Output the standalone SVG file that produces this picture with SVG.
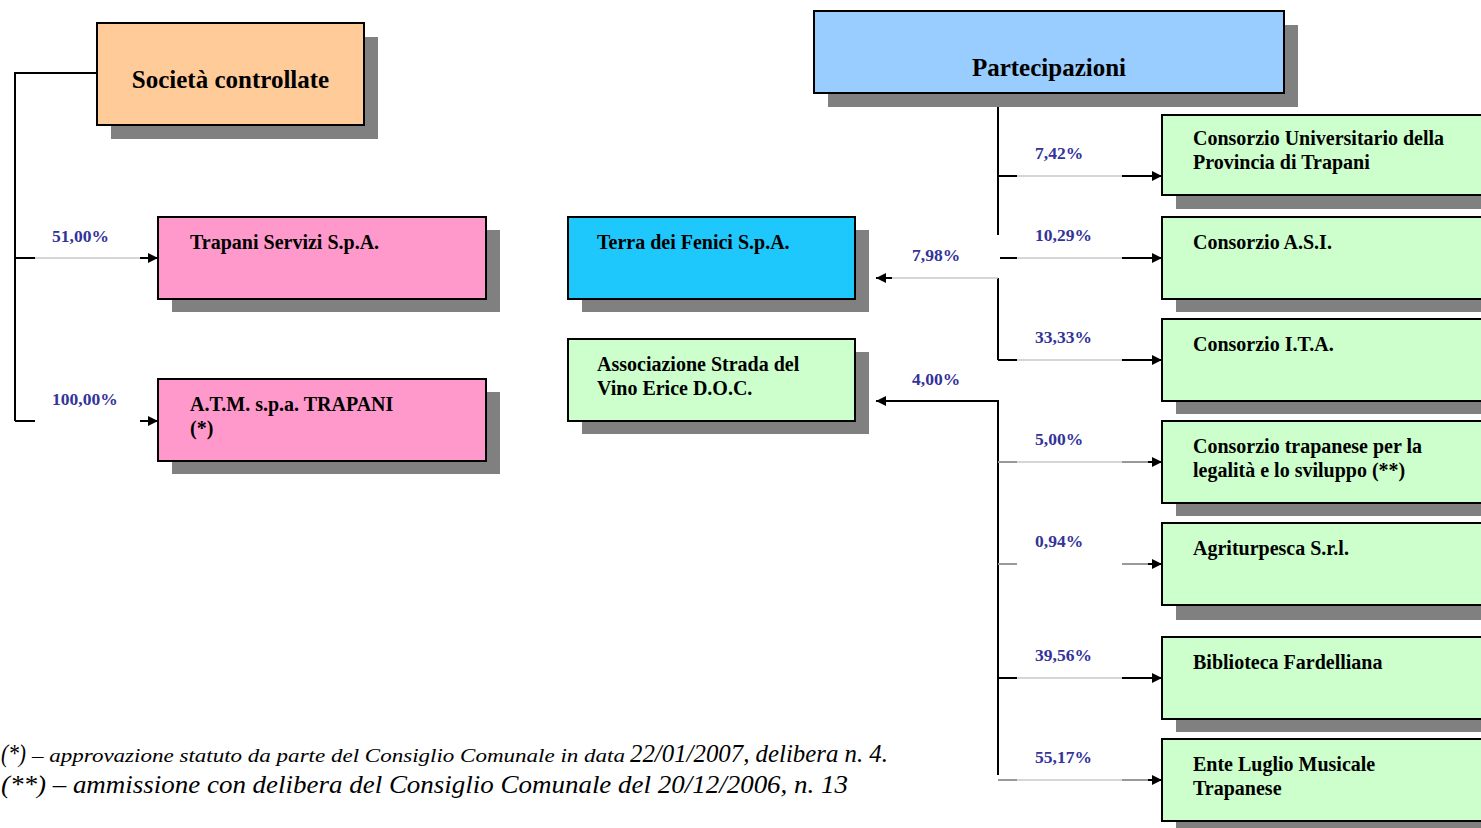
<svg xmlns="http://www.w3.org/2000/svg" width="1481" height="828" viewBox="0 0 1481 828">
<style>
.box{stroke:#000;stroke-width:2}
.sh{fill:#808080}
.t{font-family:"Liberation Serif",serif;font-weight:bold;font-size:20px;fill:#000}
.h{font-family:"Liberation Serif",serif;font-weight:bold;font-size:25px;fill:#000}
.p{font-family:"Liberation Serif",serif;font-weight:bold;font-size:17.5px;fill:#333399}
.fn{font-family:"Liberation Serif",serif;font-style:italic;fill:#000}
.ln{stroke:#000;stroke-width:2;fill:none}
.gl{stroke:#c8c8c8;stroke-width:1.5;fill:none}
.gs{stroke:#999;stroke-width:2;fill:none}
</style>
<defs>
<marker id="ah" viewBox="0 0 10 10" refX="10" refY="5" markerWidth="10" markerHeight="10" markerUnits="userSpaceOnUse" orient="auto">
<path d="M0,0 L10,5 L0,10 Z" fill="#000"/>
</marker>
</defs>
<rect width="1481" height="828" fill="#fff"/>

<g id="connectors">
<polyline class="ln" points="97,73 15,73 15,421"/>
<line class="ln" x1="15" y1="258" x2="35" y2="258"/>
<line class="gl" x1="35" y1="258" x2="140" y2="258"/>
<line class="ln" x1="140" y1="258" x2="158" y2="258" marker-end="url(#ah)"/>
<line class="ln" x1="15" y1="421" x2="35" y2="421"/>
<line class="ln" x1="140" y1="421" x2="158" y2="421" marker-end="url(#ah)"/>
<line class="ln" x1="998" y1="104" x2="998" y2="235"/>
<line class="ln" x1="998" y1="278" x2="998" y2="360"/>
<line class="ln" x1="998" y1="400" x2="998" y2="775"/>
<line class="ln" x1="998" y1="176" x2="1017" y2="176"/>
<line class="gl" x1="1017" y1="176" x2="1122" y2="176"/>
<line class="ln" x1="1122" y1="176" x2="1162" y2="176" marker-end="url(#ah)"/>
<line class="ln" x1="1000" y1="258" x2="1017" y2="258"/>
<line class="gl" x1="1017" y1="258" x2="1122" y2="258"/>
<line class="ln" x1="1122" y1="258" x2="1162" y2="258" marker-end="url(#ah)"/>
<line class="ln" x1="998" y1="360" x2="1017" y2="360"/>
<line class="gl" x1="1017" y1="360" x2="1122" y2="360"/>
<line class="ln" x1="1122" y1="360" x2="1162" y2="360" marker-end="url(#ah)"/>
<line class="gs" x1="998" y1="462" x2="1017" y2="462"/>
<line class="gl" x1="1017" y1="462" x2="1122" y2="462"/>
<line class="gs" x1="1122" y1="462" x2="1150" y2="462"/>
<line class="ln" x1="1148" y1="462" x2="1162" y2="462" marker-end="url(#ah)"/>
<line class="gs" x1="998" y1="564" x2="1017" y2="564"/>
<line class="gs" x1="1122" y1="564" x2="1150" y2="564"/>
<line class="ln" x1="1148" y1="564" x2="1162" y2="564" marker-end="url(#ah)"/>
<line class="ln" x1="998" y1="678" x2="1017" y2="678"/>
<line class="gl" x1="1017" y1="678" x2="1122" y2="678"/>
<line class="ln" x1="1122" y1="678" x2="1162" y2="678" marker-end="url(#ah)"/>
<line class="gs" x1="998" y1="780" x2="1017" y2="780"/>
<line class="gl" x1="1017" y1="780" x2="1122" y2="780"/>
<line class="gs" x1="1122" y1="780" x2="1150" y2="780"/>
<line class="ln" x1="1148" y1="780" x2="1162" y2="780" marker-end="url(#ah)"/>
<line class="gl" x1="998" y1="278" x2="886" y2="278"/>
<line class="ln" x1="892" y1="278" x2="876" y2="278" marker-end="url(#ah)"/>
<line class="ln" x1="998" y1="401" x2="876" y2="401" marker-end="url(#ah)"/>
<text class="p" x="52" y="242">51,00%</text>
<text class="p" x="52" y="405">100,00%</text>
<text class="p" x="1035" y="159">7,42%</text>
<text class="p" x="1035" y="241">10,29%</text>
<text class="p" x="1035" y="343">33,33%</text>
<text class="p" x="1035" y="445">5,00%</text>
<text class="p" x="1035" y="547">0,94%</text>
<text class="p" x="1035" y="661">39,56%</text>
<text class="p" x="1035" y="763">55,17%</text>
<text class="p" x="912" y="261">7,98%</text>
<text class="p" x="912" y="385">4,00%</text>
</g>

<g id="societa-controllate">
<rect class="sh" x="111" y="37" width="267" height="102"/>
<rect class="box" x="97" y="23" width="267" height="102" fill="#ffcc99"/>
<text class="h" x="230.5" y="88" text-anchor="middle">Società controllate</text>
</g>
<g id="trapani-servizi">
<rect class="sh" x="172" y="230" width="328" height="82"/>
<rect class="box" x="158" y="217" width="328" height="82" fill="#ff99cc"/>
<text class="t" x="190" y="249">Trapani Servizi S.p.A.</text>
</g>
<g id="atm">
<rect class="sh" x="172" y="392" width="328" height="82"/>
<rect class="box" x="158" y="379" width="328" height="82" fill="#ff99cc"/>
<text class="t" x="190" y="411">A.T.M. s.p.a. TRAPANI</text>
<text class="t" x="190" y="435">(*)</text>
</g>
<g id="partecipazioni">
<rect class="sh" x="828" y="25" width="470" height="82"/>
<rect class="box" x="814" y="11" width="470" height="82" fill="#99ccff"/>
<text class="h" x="1049" y="76" text-anchor="middle">Partecipazioni</text>
</g>
<g id="terra-dei-fenici">
<rect class="sh" x="582" y="230" width="287" height="82"/>
<rect class="box" x="568" y="217" width="287" height="82" fill="#1ec8fc"/>
<text class="t" x="597" y="249">Terra dei Fenici S.p.A.</text>
</g>
<g id="strada-vino">
<rect class="sh" x="582" y="352" width="287" height="82"/>
<rect class="box" x="568" y="339" width="287" height="82" fill="#ccffcc"/>
<text class="t" x="597" y="371">Associazione Strada del</text>
<text class="t" x="597" y="395">Vino Erice D.O.C.</text>
</g>
<g id="consorzio-universitario">
<rect class="sh" x="1176" y="128" width="330" height="81"/>
<rect class="box" x="1162" y="115" width="330" height="80" fill="#ccffcc"/>
<text class="t" x="1193" y="145">Consorzio Universitario della</text>
<text class="t" x="1193" y="169">Provincia di Trapani</text>
</g>
<g id="consorzio-asi">
<rect class="sh" x="1176" y="230" width="330" height="82"/>
<rect class="box" x="1162" y="217" width="330" height="82" fill="#ccffcc"/>
<text class="t" x="1193" y="249">Consorzio A.S.I.</text>
</g>
<g id="consorzio-ita">
<rect class="sh" x="1176" y="332" width="330" height="82"/>
<rect class="box" x="1162" y="319" width="330" height="82" fill="#ccffcc"/>
<text class="t" x="1193" y="351">Consorzio I.T.A.</text>
</g>
<g id="consorzio-trapanese">
<rect class="sh" x="1176" y="434" width="330" height="82"/>
<rect class="box" x="1162" y="421" width="330" height="82" fill="#ccffcc"/>
<text class="t" x="1193" y="453">Consorzio trapanese per la</text>
<text class="t" x="1193" y="477">legalità e lo sviluppo (**)</text>
</g>
<g id="agriturpesca">
<rect class="sh" x="1176" y="536" width="330" height="84"/>
<rect class="box" x="1162" y="523" width="330" height="82" fill="#ccffcc"/>
<text class="t" x="1193" y="555">Agriturpesca S.r.l.</text>
</g>
<g id="biblioteca">
<rect class="sh" x="1176" y="650" width="330" height="82"/>
<rect class="box" x="1162" y="637" width="330" height="82" fill="#ccffcc"/>
<text class="t" x="1193" y="669">Biblioteca Fardelliana</text>
</g>
<g id="ente-luglio">
<rect class="sh" x="1176" y="752" width="330" height="82"/>
<rect class="box" x="1162" y="739" width="330" height="82" fill="#ccffcc"/>
<text class="t" x="1193" y="771">Ente Luglio Musicale</text>
<text class="t" x="1193" y="795">Trapanese</text>
</g>

<g id="footnotes">
<text class="fn" x="1" y="762" font-size="26" textLength="25" lengthAdjust="spacingAndGlyphs">(*)</text>
<text class="fn" x="32" y="762" font-size="19" textLength="593" lengthAdjust="spacingAndGlyphs">– approvazione statuto da parte del Consiglio Comunale in data</text>
<text class="fn" x="630" y="762" font-size="26" textLength="258" lengthAdjust="spacingAndGlyphs">22/01/2007, delibera n. 4.</text>
<text class="fn" x="1" y="793" font-size="26" textLength="847" lengthAdjust="spacingAndGlyphs">(**) – ammissione con delibera del Consiglio Comunale del 20/12/2006, n. 13</text>
</g>
</svg>
